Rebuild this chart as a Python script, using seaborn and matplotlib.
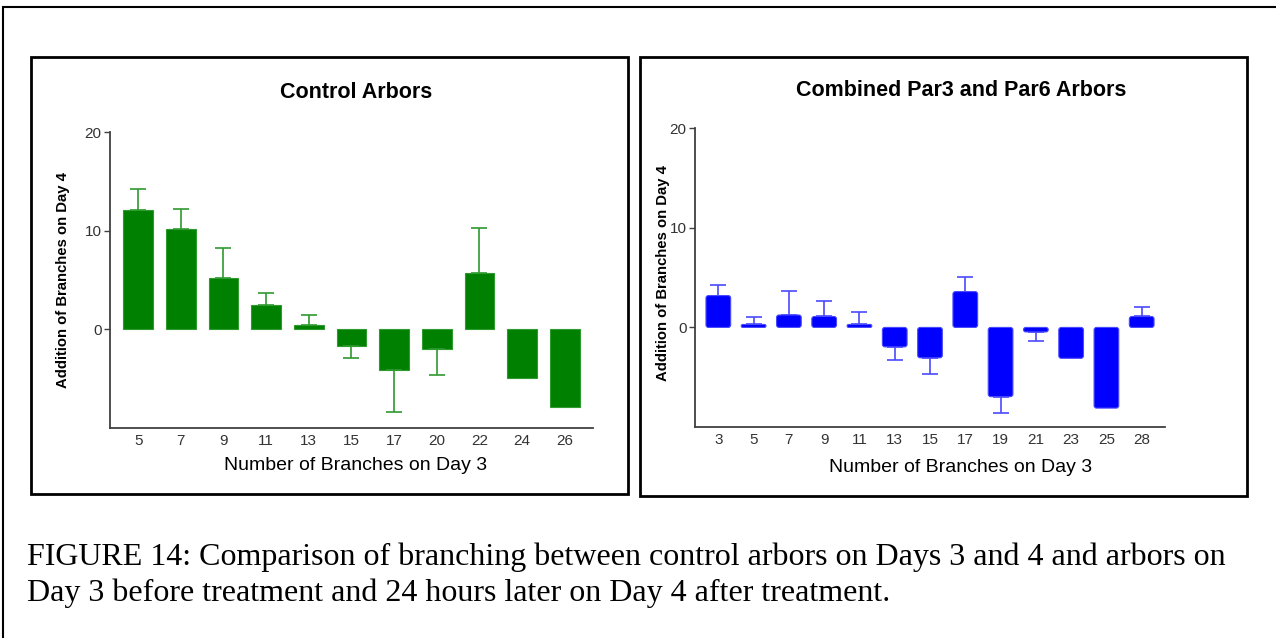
"""
Figure 14: branching on Day 3 vs additions on Day 4
"""

import numpy as np
import pandas as pd
import matplotlib
matplotlib.use('Agg')
import matplotlib.pyplot as plt
import seaborn as sns
from matplotlib.patches import Rectangle, FancyBboxPatch

# ==================== data ====================
ctrl_branches = ['5', '7', '9', '11', '13', '15', '17', '20', '22', '24', '26']
ctrl_addition = [12.1, 10.2, 5.2, 2.5, 0.4, -1.7, -4.1, -2.0, 5.7, -4.9, -7.9]
ctrl_err = [2.1, 2.0, 3.0, 1.2, 1.1, 1.2, 4.3, 2.6, 4.6, np.nan, np.nan]

par_branches = ['3', '5', '7', '9', '11', '13', '15', '17', '19', '21', '23', '25', '28']
par_addition = [3.2, 0.3, 1.25, 1.1, 0.3, -1.95, -3.05, 3.6, -6.95, -0.45, -3.1, -8.1, 1.1]
par_err = [1.1, 0.7, 2.45, 1.6, 1.3, 1.3, 1.65, 1.5, 1.6, 0.9, np.nan, np.nan, 0.95]

titles = ['Control Arbors', 'Combined Par3 and Par6 Arbors']
ylabel = 'Addition of Branches on Day 4'
xlabel = 'Number of Branches on Day 3'
caption = ('FIGURE 14: Comparison of branching between control arbors on Days 3 and 4 and arbors on\n'
           'Day 3 before treatment and 24 hours later on Day 4 after treatment.')

COLORS = {
    'ctrl': '#008000', 'ctrl_err': '#2f9a2f',
    'par': '#0000ff', 'par_err': '#4a4aff',
    'axis': '#404040',
}

sns.set_theme(style='white')
plt.rcParams['font.family'] = ['Liberation Sans', 'DejaVu Sans']
plt.rcParams['text.color'] = 'black'

fig = plt.figure(figsize=(12.76, 6.38), dpi=100)


def draw_panel(rect, cats, vals, errs, color, ecolor, title, tx, ty, xl_y, yl_x, yl_y):
    ax = fig.add_axes(rect)
    df = pd.DataFrame({'cat': cats, 'val': vals})
    sns.barplot(data=df, x='cat', y='val', color=color, saturation=1,
                width=0.7, edgecolor=ecolor, linewidth=0.8, errorbar=None, ax=ax)
    # one-sided error bars, away from zero
    v = np.array(vals)
    e = np.array(errs)
    lower = np.where(v < 0, e, 0)
    upper = np.where(v >= 0, e, 0)
    ok = ~np.isnan(e)
    xs = np.arange(len(cats))
    ax.errorbar(xs[ok], v[ok], yerr=[lower[ok], upper[ok]], fmt='none',
                ecolor=ecolor, elinewidth=1.2, capsize=6, capthick=1.2, zorder=1)
    ax.set_xlim(-0.66, len(cats) - 0.34)
    ax.set_ylim(-10, 20)
    ax.set_yticks([0, 10, 20])
    ax.set_facecolor('none')
    for s in ['top', 'right']:
        ax.spines[s].set_visible(False)
    for s in ['left', 'bottom']:
        ax.spines[s].set_color(COLORS['axis'])
        ax.spines[s].set_linewidth(1.3)
    ax.tick_params(axis='y', length=4, width=1, color=COLORS['axis'],
                   labelsize=11, labelcolor='#333333', pad=2, left=True)
    ax.tick_params(axis='x', length=0, labelsize=11, labelcolor='#333333', pad=4)
    ax.set_xlabel(xlabel, fontsize=14, color='black', va='center')
    ax.xaxis.set_label_coords(tx, xl_y)
    ax.set_ylabel(ylabel, fontsize=10.7, fontweight='bold', color='black', va='center')
    ax.yaxis.set_label_coords(yl_x, yl_y)
    ax.set_title(title, fontsize=15.5, fontweight='bold', x=tx, y=ty, pad=0,
                 va='center', color='black')
    return ax


ax1 = draw_panel([0.0862, 0.3292, 0.3785, 0.4639], ctrl_branches, ctrl_addition, ctrl_err,
                 COLORS['ctrl'], COLORS['ctrl_err'], titles[0],
                 0.509, 1.135, -0.128, -0.097, 0.5)
ax2 = draw_panel([0.5447, 0.3307, 0.3683, 0.4682], par_branches, par_addition, par_err,
                 COLORS['par'], COLORS['par_err'], titles[1],
                 0.566, 1.125, -0.137, -0.0685, 0.514)

# rounded corners on the blue bars
aspect = (30 / 298.7) / (len(par_branches) / 470)
for p in list(ax2.patches):
    x, y, w, h = p.get_x(), p.get_y(), p.get_width(), p.get_height()
    y0, hh = min(y, y + h), abs(h)
    r = min(0.07, w / 2, hh / aspect / 2)
    fb = FancyBboxPatch((x, y0), w, hh, boxstyle=f'round,pad=0,rounding_size={r}',
                        mutation_aspect=aspect, fc=p.get_facecolor(), ec=p.get_edgecolor(),
                        lw=0.8, zorder=p.get_zorder())
    p.remove()
    ax2.add_patch(fb)

# panel frames and outer frame
fig.patches.append(Rectangle((31 / 1276, 1 - 494 / 638), 597 / 1276, 437 / 638,
                             transform=fig.transFigure, fill=False, lw=2, ec='black'))
fig.patches.append(Rectangle((640 / 1276, 1 - 496 / 638), 607 / 1276, 439 / 638,
                             transform=fig.transFigure, fill=False, lw=2, ec='black'))
fig.patches.append(Rectangle((3 / 1276, -0.05), 1.1, 1 - 7 / 638 + 0.05,
                             transform=fig.transFigure, fill=False, lw=1.5, ec='black'))

fig.text(27 / 1276, 1 - 575.5 / 638, caption, fontsize=23,
         family=['Liberation Serif', 'DejaVu Serif'],
         va='center', ha='left', linespacing=1.3)

fig.savefig('out.png', dpi=100)
